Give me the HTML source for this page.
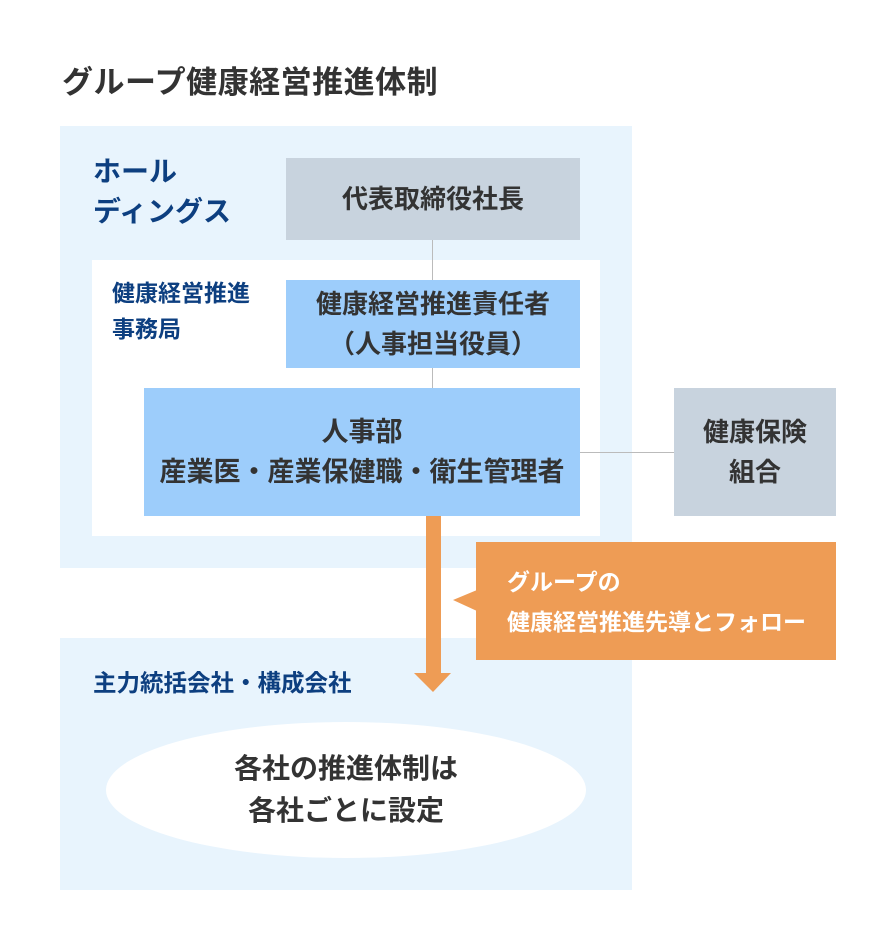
<!DOCTYPE html>
<html><head><meta charset="utf-8"><style>
*{margin:0;padding:0;box-sizing:border-box}
body{width:896px;height:950px;background:#fff;position:relative;font-family:"Liberation Sans","Noto Sans CJK JP",sans-serif;font-weight:bold;overflow:hidden}
.a{position:absolute}
.box{position:absolute;display:flex;align-items:center;justify-content:center;text-align:center;color:#333;font-size:26px;line-height:40px}
.nv{color:#0d3f80;position:absolute}
</style></head><body>
<div class="a" style="left:62px;top:57px;font-size:31px;letter-spacing:0.5px;color:#333">グループ健康経営推進体制</div>
<div class="a" style="left:60px;top:126px;width:572px;height:442px;background:#e8f4fd"></div>
<div class="a" style="left:60px;top:638px;width:572px;height:252px;background:#e8f4fd"></div>
<div class="a" style="left:92px;top:260px;width:508px;height:276px;background:#fff"></div>
<div class="nv" style="left:93px;top:152px;font-size:28px;line-height:40px">ホール<br>ディングス</div>
<div class="nv" style="left:112px;top:275px;font-size:23px;line-height:36px">健康経営推進<br>事務局</div>
<div class="nv" style="left:93px;top:668px;font-size:23.5px;line-height:30px">主力統括会社・構成会社</div>
<div class="a" style="left:432px;top:240px;width:1px;height:40px;background:#bbb"></div>
<div class="a" style="left:432px;top:368px;width:1px;height:20px;background:#bbb"></div>
<div class="a" style="left:580px;top:452px;width:94px;height:1px;background:#bbb"></div>
<div class="box" style="left:286px;top:158px;width:294px;height:82px;background:#c8d3de">代表取締役社長</div>
<div class="box" style="left:286px;top:280px;width:294px;height:88px;background:#9dcdfb">健康経営推進責任者<br>（人事担当役員）</div>
<div class="box" style="left:144px;top:388px;width:436px;height:128px;background:#9dcdfb;font-size:27px">人事部<br>産業医・産業保健職・衛生管理者</div>
<div class="box" style="left:674px;top:388px;width:162px;height:128px;background:#c8d3de">健康保険<br>組合</div>
<svg class="a" style="left:0;top:0" width="896" height="950">
<rect x="426" y="516" width="15" height="158" fill="#ee9c55"/>
<polygon points="414,673 451,673 433,692" fill="#ee9c55"/>
<polygon points="453,600 477,590 477,611" fill="#ee9c55"/>
<ellipse cx="346" cy="790" rx="240" ry="68" fill="#fff"/>
</svg>
<div class="a" style="left:476px;top:542px;width:360px;height:118px;background:#ee9c55;color:#fff;font-size:23px;line-height:40px;padding:20px 0 0 31px">グループの<br>健康経営推進先導とフォロー</div>
<div class="box" style="left:106px;top:722px;width:480px;height:136px;line-height:42px;font-size:28px">各社の推進体制は<br>各社ごとに設定</div>
</body></html>
